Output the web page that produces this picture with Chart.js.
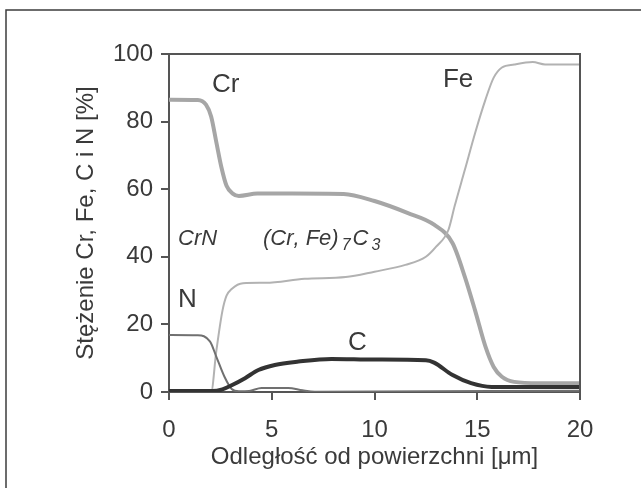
<!DOCTYPE html>
<html>
<head>
<meta charset="utf-8">
<script src="https://cdn.jsdelivr.net/npm/chart.js@4/dist/chart.umd.min.js"></script>
<style>
  html, body { margin: 0; padding: 0; background: #fff; }
  canvas { display: block; }
</style>
</head>
<body>
<canvas id="chart" width="641" height="488"></canvas>
<script>
// profile data, depth in um, content in %
const crX = [0, 1.4, 1.8, 2.05, 2.3, 2.55, 2.8, 3.1, 3.4, 4.3, 6, 8.5, 10, 11.6, 12.9, 13.8, 14.4, 14.9, 15.4, 15.8, 16.2, 16.8, 18, 20];
const crY = [86.5, 86.4, 85, 81.5, 74, 66.5, 61, 58.7, 58, 58.7, 58.7, 58.6, 56.5, 53, 49.5, 44, 34, 24, 13.4, 7.4, 4.5, 3, 2.6, 2.6];

const feX = [0, 2.05, 2.3, 2.6, 2.8, 3.05, 3.6, 4.7, 6.6, 8.6, 10, 11.5, 12.5, 13, 13.6, 13.9, 14.4, 14.9, 15.4, 15.8, 16.2, 16.8, 17.7, 18.3, 20];
const feY = [0, 0, 12, 24, 28.5, 30.5, 32.2, 32.3, 33.5, 34, 35.6, 37.6, 40, 43, 48, 55, 65.8, 76.7, 86.5, 93, 96, 96.9, 97.6, 96.9, 96.9];

const nX = [0, 1.4, 2.0, 2.3, 2.7, 3.05, 3.4, 3.9, 4.5, 5.8, 6.5, 7.1, 20];
const nY = [16.9, 16.8, 14.9, 10.5, 4.5, 0.9, 0.2, 0.3, 1.2, 1.2, 0.5, 0.1, 0.4];

const cX = [0, 2.1, 2.6, 3.05, 3.7, 4.35, 5.15, 6.3, 7.9, 10, 12.5, 12.9, 13.8, 14.7, 15.7, 20];
const cY = [0.3, 0.3, 0.8, 2, 4.1, 6.5, 8, 9, 9.8, 9.6, 9.4, 8.7, 5, 2.6, 1.5, 1.5];

const xTicks = [0, 5, 10, 15, 20];
const yTicks = [0, 20, 40, 60, 80, 100];

// labels written inside the plot ("_" marks a subscript character)
const noteText = ['Cr', 'Fe', 'N', 'C', 'CrN', '(Cr, Fe)_7C_3'];
const noteX = [2.09, 13.33, 0.44, 8.71, 0.44, 4.57];
const noteY = [88.9, 90.3, 25.2, 12.4, 43.5, 43.5];
const noteItalic = [false, false, false, false, true, true];

const FONT = "'Liberation Sans', Arial, sans-serif";
const INK = '#3a3a3a';

const toPoints = (xs, ys) => xs.map((v, i) => ({ x: v, y: ys[i] }));

const extras = {
  id: 'extras',
  beforeDraw(chart) {
    const { ctx, width, height } = chart;
    ctx.save();
    ctx.fillStyle = '#fff';
    ctx.fillRect(0, 0, width, height);
    ctx.strokeStyle = '#3c3c3c';
    ctx.lineWidth = 1.5;
    ctx.beginPath();
    ctx.moveTo(6, height);
    ctx.lineTo(6, 10);
    ctx.lineTo(width, 10);
    ctx.stroke();
    ctx.restore();
  },
  afterDatasetsDraw(chart) {
    const { ctx, chartArea: a, scales } = chart;
    ctx.save();
    ctx.strokeStyle = '#555';
    ctx.lineWidth = 2;
    ctx.beginPath();
    ctx.moveTo(a.left, a.top);
    ctx.lineTo(a.right, a.top);
    ctx.lineTo(a.right, a.bottom);
    ctx.stroke();

    ctx.fillStyle = INK;
    ctx.textBaseline = 'alphabetic';
    ctx.textAlign = 'left';
    noteText.forEach((txt, i) => {
      let px = scales.x.getPixelForValue(noteX[i]);
      const py = scales.y.getPixelForValue(noteY[i]);
      const style = noteItalic[i] ? 'italic ' : '';
      const size = noteItalic[i] ? 22 : 26;
      for (let k = 0; k < txt.length; k++) {
        if (txt[k] === '_') {
          k++;
          ctx.font = style + '16px ' + FONT;
          px += 3;
          ctx.fillText(txt[k], px, py + 5);
          px += ctx.measureText(txt[k]).width + 2;
        } else {
          ctx.font = style + size + 'px ' + FONT;
          ctx.fillText(txt[k], px, py);
          px += ctx.measureText(txt[k]).width;
        }
      }
    });
    ctx.restore();
  }
};

new Chart(document.getElementById('chart'), {
  type: 'line',
  data: {
    datasets: [
      { label: 'C', data: toPoints(cX, cY), borderColor: '#333', borderWidth: 4 },
      { label: 'N', data: toPoints(nX, nY), borderColor: '#707070', borderWidth: 2 },
      { label: 'Fe', data: toPoints(feX, feY), borderColor: '#b2b2b2', borderWidth: 2 },
      { label: 'Cr', data: toPoints(crX, crY), borderColor: '#a6a6a6', borderWidth: 4 }
    ]
  },
  options: {
    responsive: false,
    animation: false,
    layout: { padding: { top: 54, right: 61, left: 0, bottom: 0 } },
    elements: {
      point: { radius: 0 },
      line: { cubicInterpolationMode: 'monotone', fill: false }
    },
    plugins: { legend: { display: false }, tooltip: { enabled: false } },
    scales: {
      x: {
        type: 'linear',
        min: 0,
        max: 20,
        afterFit: (s) => { s.height = 96; },
        afterBuildTicks: (s) => { s.ticks = xTicks.map((v) => ({ value: v })); },
        grid: { drawOnChartArea: false, tickLength: 8, color: '#555', lineWidth: 2 },
        border: { color: '#555', width: 2 },
        ticks: { font: { family: FONT, size: 24 }, color: INK, padding: 16, maxRotation: 0 },
        title: {
          display: true,
          text: 'Odległość od powierzchni [μm]',
          font: { family: FONT, size: 24 },
          color: INK,
          padding: { top: 0, bottom: 16 }
        }
      },
      y: {
        min: 0,
        max: 100,
        afterFit: (s) => { s.width = 169; },
        afterBuildTicks: (s) => { s.ticks = yTicks.map((v) => ({ value: v })); },
        grid: { drawOnChartArea: false, tickLength: 8, color: '#555', lineWidth: 2 },
        border: { color: '#555', width: 2 },
        ticks: { font: { family: FONT, size: 24 }, color: INK, padding: 8 },
        title: {
          display: true,
          text: 'Stężenie Cr, Fe, C i N [%]',
          font: { family: FONT, size: 24 },
          color: INK,
          padding: { top: 72, bottom: 0 }
        }
      }
    }
  },
  plugins: [extras]
});
</script>
</body>
</html>
